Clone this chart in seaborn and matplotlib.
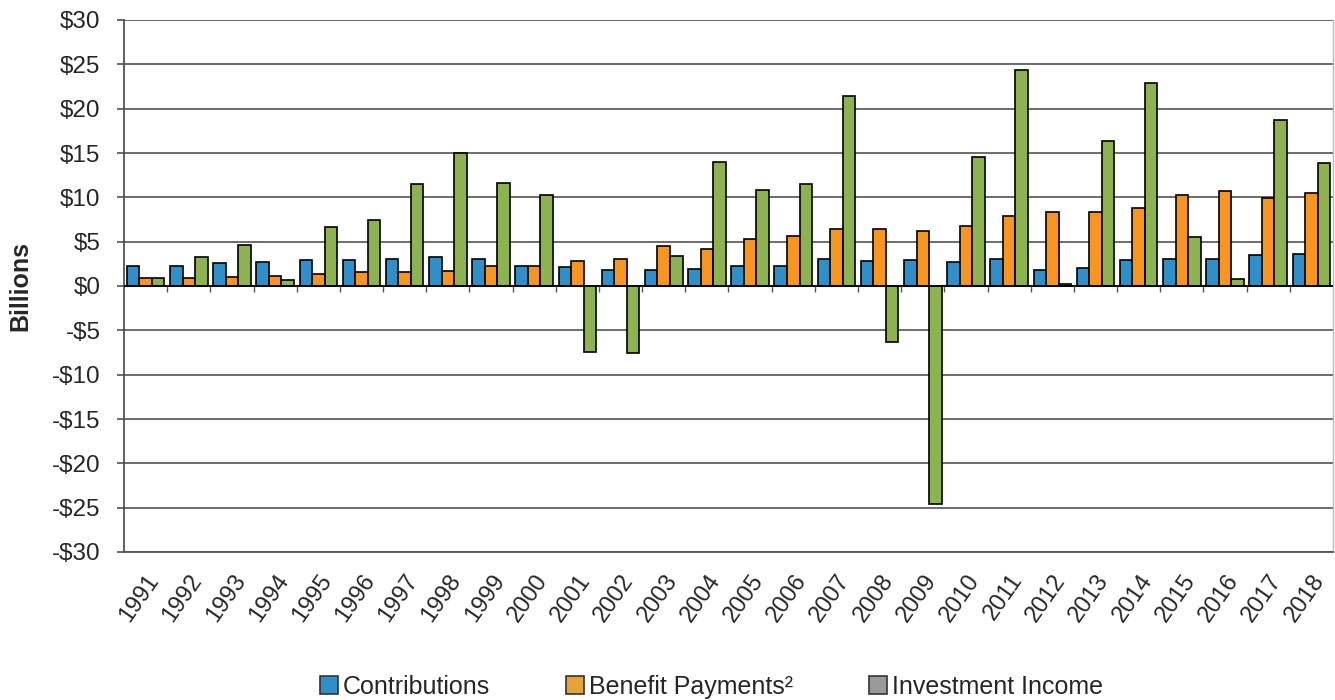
import matplotlib
matplotlib.use("Agg")
import matplotlib.pyplot as plt
from matplotlib.patches import Patch
from matplotlib.ticker import FuncFormatter, MultipleLocator
import numpy as np
import pandas as pd
import seaborn as sns

# Annual cash flows, $ billions
years = list(range(1991, 2019))
contributions = [2.2, 2.3, 2.6, 2.75, 2.95, 2.95, 3.1, 3.25, 3.1, 2.2,
                 2.1, 1.8, 1.8, 1.95, 2.2, 2.3, 3.1, 2.85, 2.95, 2.75,
                 3.1, 1.8, 2.05, 2.95, 3.1, 3.1, 3.5, 3.6]
benefit_payments = [0.85, 0.9, 1.05, 1.15, 1.3, 1.55, 1.55, 1.7, 2.3, 2.2,
                    2.85, 3.1, 4.55, 4.15, 5.25, 5.65, 6.45, 6.4, 6.15, 6.8,
                    7.95, 8.3, 8.3, 8.8, 10.25, 10.7, 9.9, 10.45]
investment_income = [0.9, 3.3, 4.6, 0.7, 6.6, 7.5, 11.5, 14.95, 11.6, 10.3,
                     -7.4, -7.5, 3.35, 14.0, 10.8, 11.5, 21.4, -6.35, -24.6, 14.5,
                     24.35, 0.25, 16.35, 22.85, 5.5, 0.8, 18.7, 13.9]

series_names = ["Contributions", "Benefit Payments\u00b2", "Investment Income"]
bar_colors = ["#2F8FC9", "#F7951E", "#8DB350"]
legend_colors = ["#2F8FC9", "#E3A43A", "#9A9A9A"]

df = pd.DataFrame({
    "year": [str(y) for y in years] * 3,
    "series": np.repeat(series_names, len(years)),
    "value": contributions + benefit_payments + investment_income,
})

sns.set_theme(style="white")
plt.rcParams["font.family"] = ["Liberation Sans", "DejaVu Sans"]

fig = plt.figure(figsize=(13.35, 7.0), dpi=100)
ax = fig.add_axes([124 / 1335, 1 - 552 / 700, (1333 - 124) / 1335, (552 - 20) / 700])

sns.barplot(data=df, x="year", y="value", hue="series", hue_order=series_names,
            palette=bar_colors, width=0.87, edgecolor="black", linewidth=1.2,
            saturation=1, legend=False, ax=ax, zorder=3)

ax.set_ylim(-30, 30)
ax.set_xlim(-0.5, len(years) - 0.5)
ax.yaxis.set_major_locator(MultipleLocator(5))
ax.yaxis.set_major_formatter(FuncFormatter(lambda v, _: f"-${-v:.0f}" if v < 0 else f"${v:.0f}"))
ax.yaxis.grid(True, color="#606060", linewidth=1.3, zorder=0)
ax.set_axisbelow(True)

# zero baseline with small tick marks between year groups
ax.axhline(0, color="black", linewidth=1.3, zorder=4)
bounds = np.arange(len(years) + 1) - 0.5
ax.vlines(bounds[1:-1], -0.7, 0, color="#555555", linewidth=1.0, zorder=4)

ax.spines["top"].set_visible(False)
ax.spines["left"].set_color("#444444")
ax.spines["left"].set_linewidth(1.2)
ax.spines["bottom"].set_color("#555555")
ax.spines["bottom"].set_linewidth(1.3)
ax.spines["right"].set_color("#BBBBBB")
ax.spines["right"].set_linewidth(1.0)

ax.tick_params(axis="y", which="major", left=True, length=5, width=1.1,
               color="#444444", labelsize=17.5, pad=12)
ax.tick_params(axis="x", which="major", bottom=False, labelsize=17, pad=7)
ax.set_xticks(range(len(years)))
ax.set_xticklabels([str(y) for y in years], rotation=55, ha="right",
                   va="top", rotation_mode="anchor")

ax.set_xlabel("")
ax.set_ylabel("Billions", fontsize=18, fontweight="bold")
ax.yaxis.set_label_coords((32 - 124) / 1209, 0.5)

handles = [Patch(facecolor=c, edgecolor="#333333", linewidth=1.2) for c in legend_colors]
fig.legend(handles, series_names, loc="center", bbox_to_anchor=(0.533, 0.019),
           ncol=3, frameon=False, fontsize=18, handlelength=0.7, handleheight=0.7,
           handletextpad=0.2, columnspacing=3.05, borderaxespad=0)

fig.savefig("out.png", dpi=100, facecolor="white")
